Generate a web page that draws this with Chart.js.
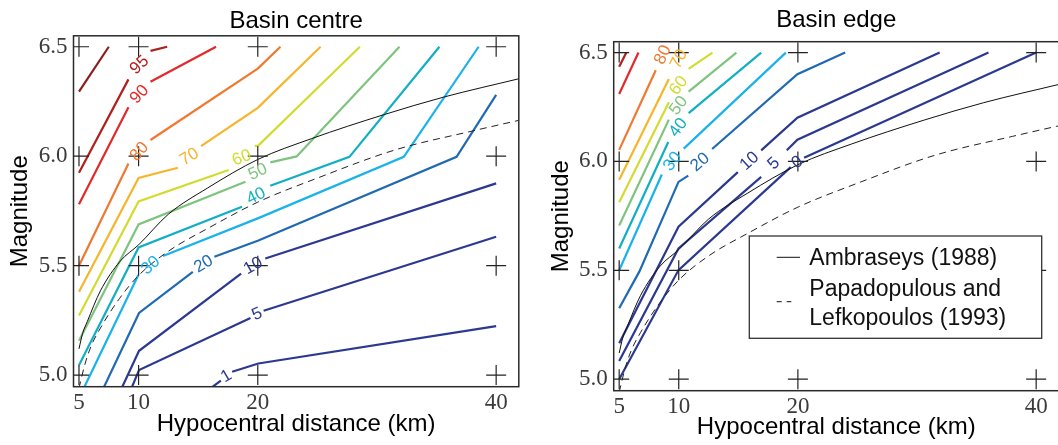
<!DOCTYPE html>
<html>
<head>
<meta charset="utf-8">
<script src="https://cdn.jsdelivr.net/npm/chart.js@4.4.1/dist/chart.umd.min.js"></script>
<style>
  html, body { margin: 0; padding: 0; background: #fff; overflow: hidden; }
  #wrap { position: relative; width: 1058px; height: 445px; overflow: hidden; }
  .box { position: absolute; top: 0; height: 445px; }
  #centreBox { left: 0; width: 530px; }
  #edgeBox { left: 530px; width: 540px; }
</style>
</head>
<body>
<div id="wrap">
  <div class="box" id="centreBox"><canvas id="centreChart" width="530" height="445"></canvas></div>
  <div class="box" id="edgeBox"><canvas id="edgeChart" width="540" height="445"></canvas></div>
</div>
<script>
// axes
const distTicks = [5, 10, 20, 40];
const magTicks = [5.0, 5.5, 6.0, 6.5];

// empirical curves (distance km, magnitude)
const ambraseysDist = [5, 5.3, 5.7, 6.8, 8.45, 10, 12.5, 15.8, 20, 24.5, 30.6, 35.6, 42];
const ambraseysMag = [5.12, 5.19, 5.245, 5.385, 5.52, 5.595, 5.735, 5.855, 5.985, 6.08, 6.19, 6.27, 6.355];
const papaDist = [5.0, 5.5, 6.0, 6.8, 8.4, 10, 12.5, 15.8, 20, 25, 31.6, 38, 42];
const papaMag = [4.94, 5.05, 5.13, 5.215, 5.35, 5.455, 5.566, 5.67, 5.79, 5.9, 6.03, 6.115, 6.165];

// basin centre contours, [distance, magnitude], null = label gap
const centreLevels = [99, 95, 90, 80, 70, 60, 50, 40, 30, 20, 10, 5, 1];
const centre99 = [[5, 6.295], [7.5, 6.5]];
const centre95 = [[5, 5.924], [9.15, 6.351], null, [11.0, 6.481], [12.4, 6.5]];
const centre90 = [[5, 5.781], [9.15, 6.224], null, [11.0, 6.34], [16.5, 6.5]];
const centre80 = [[5, 5.5], [9.15, 5.967], null, [11.0, 6.074], [20.0, 6.4], [21.9, 6.5]];
const centre70 = [[5, 5.381], [10.0, 5.901], [13.3, 5.947], null, [15.24, 6.046], [20.0, 6.221], [25.27, 6.5]];
const centre60 = [[5, 5.272], [10.0, 5.793], [17.56, 5.937], null, [19.75, 6.047], [20.02, 6.047], [28.57, 6.5]];
const centre50 = [[5, 5.157], [10.0, 5.688], [18.97, 5.883], null, [21.05, 5.972], [23.26, 5.999], [31.89, 6.5]];
const centre40 = [[5, 5.045], [10.0, 5.583], [18.68, 5.769], null, [21.05, 5.865], [27.69, 5.997], [35.24, 6.5]];
const centre30 = [[5.4, 4.94], [9.98, 5.457], null, [12.05, 5.544], [20.0, 5.716], [32.25, 5.997], [38.53, 6.5]];
const centre20 = [[7.05, 4.94], [10.04, 5.284], [14.55, 5.472], null, [16.36, 5.541], [20.0, 5.614], [36.68, 5.997], [40.0, 6.28]];
const centre10 = [[8.58, 4.94], [10.04, 5.111], [18.6, 5.464], null, [20.63, 5.533], [40.0, 5.876]];
const centre5 = [[9.4, 4.94], [10.04, 5.023], [19.39, 5.261], null, [20.49, 5.294], [40.0, 5.632]];
const centre1 = [[16.05, 4.94], [16.9, 4.975], null, [17.85, 5.015], [20.05, 5.053], [40.0, 5.224]];

// basin edge contours
const edgeLevels = [95, 90, 80, 70, 60, 50, 40, 30, 20, 10, 5, 0];
const edge95 = [[5, 6.435], [5.6, 6.5]];
const edge90 = [[5, 6.31], [6.62, 6.5]];
const edge80 = [[5, 6.053], [8.07, 6.419], null, [9.3, 6.56]];
const edge70 = [[5, 5.916], [9.17, 6.379], null, [10.9, 6.56]];
const edge60 = [[5, 5.813], [9.17, 6.272], null, [10.83, 6.425], [12.83, 6.5]];
const edge50 = [[5, 5.706], [9.17, 6.192], null, [10.83, 6.321], [14.84, 6.5]];
const edge40 = [[5, 5.6], [9.12, 6.089], null, [10.83, 6.222], [16.92, 6.5]];
const edge30 = [[5, 5.5], [8.58, 5.94], null, [10.42, 6.059], [18.99, 6.5]];
const edge20 = [[5, 5.326], [6.7, 5.495], [9.98, 5.906], [10.8, 5.935], null, [12.8, 6.057], [19.96, 6.401], [23.97, 6.5]];
const edge10 = [[5, 5.165], [9.98, 5.7], [14.96, 5.951], null, [16.92, 6.051], [19.96, 6.201], [31.9, 6.5]];
const edge5 = [[5, 5.083], [9.98, 5.6], [16.92, 5.929], null, [19.07, 6.051], [19.96, 6.1], [36.0, 6.5]];
const edge0 = [[5, 5.0], [9.98, 5.501], [19.4, 5.974], null, [20.52, 6.017], [40.0, 6.5]];

const legendLines = [['Ambraseys (1988)'], ['Papadopulous and', 'Lefkopoulos (1993)']];

const levelColors = {
  99: '#8b1e1e', 95: '#b0201f', 90: '#e2292b', 80: '#f07830', 70: '#f7b52c',
  60: '#d2dc30', 50: '#7fc47e', 40: '#12afc4', 30: '#1ab2ea', 20: '#2069b3',
  10: '#2b3990', 5: '#2b3990', 1: '#2b3990', 0: '#2b3990'
};

function toPoints(pts) {
  return pts.map(p => p ? { x: p[0], y: p[1] } : { x: null, y: null });
}

function zipPoints(xs, ys) {
  return xs.map((x, i) => ({ x: x, y: ys[i] }));
}

const crossPoints = [];
distTicks.forEach(d => magTicks.forEach(m => crossPoints.push({ x: d, y: m })));

// labels sit in the gap of each contour, turned along the line
const contourLabels = {
  id: 'contourLabels',
  afterDatasetsDraw(chart) {
    const ctx = chart.ctx;
    chart.data.datasets.forEach((ds, di) => {
      if (ds.contourLevel === undefined) return;
      const gap = ds.data.findIndex(p => p.y === null);
      if (gap < 1) return;
      const els = chart.getDatasetMeta(di).data;
      const a = els[gap - 1], b = els[gap + 1];
      const angs = [Math.atan2(b.y - a.y, b.x - a.x)];
      if (gap >= 2) {
        const p = els[gap - 2];
        angs.push(Math.atan2(a.y - p.y, a.x - p.x));
      }
      if (els[gap + 2]) {
        const q = els[gap + 2];
        angs.push(Math.atan2(q.y - b.y, q.x - b.x));
      }
      const ang = angs.reduce((s, v) => s + v, 0) / angs.length;
      ctx.save();
      ctx.translate((a.x + b.x) / 2, (a.y + b.y) / 2);
      ctx.rotate(ang);
      ctx.font = '17px "Liberation Sans"';
      ctx.fillStyle = ds.borderColor;
      ctx.textAlign = 'center';
      ctx.textBaseline = 'middle';
      ctx.fillText(String(ds.contourLevel), 0, 0);
      ctx.restore();
    });
  }
};

const frameBox = {
  id: 'frameBox',
  afterDraw(chart) {
    const { ctx, chartArea: a } = chart;
    ctx.save();
    ctx.strokeStyle = '#2a2a2a';
    ctx.lineWidth = 1.5;
    ctx.strokeRect(a.left, a.top, a.right - a.left, a.bottom - a.top);
    ctx.restore();
  }
};

const legendBox = {
  id: 'legendBox',
  afterDraw(chart, args, opts) {
    if (!opts.show) return;
    const { ctx, chartArea: a } = chart;
    const x = a.left + 135.6, y = a.top + 194.3, w = 292.4, h = 102.3;
    ctx.save();
    ctx.fillStyle = '#fff';
    ctx.fillRect(x, y, w, h);
    ctx.strokeStyle = '#333';
    ctx.lineWidth = 1.3;
    ctx.strokeRect(x, y, w, h);
    ctx.font = '23px "Liberation Sans"';
    ctx.fillStyle = '#111';
    ctx.textBaseline = 'alphabetic';
    // solid entry
    ctx.strokeStyle = '#111';
    ctx.lineWidth = 1;
    ctx.beginPath();
    ctx.moveTo(x + 27.4, y + 21.3);
    ctx.lineTo(x + 50.7, y + 21.3);
    ctx.stroke();
    ctx.fillText(legendLines[0][0], x + 60, y + 29);
    // dashed entry
    ctx.setLineDash([5, 5]);
    ctx.beginPath();
    ctx.moveTo(x + 27.4, y + 65.7);
    ctx.lineTo(x + 42, y + 65.7);
    ctx.stroke();
    ctx.setLineDash([]);
    ctx.fillText(legendLines[1][0], x + 60, y + 60);
    ctx.fillText(legendLines[1][1], x + 60, y + 89);
    ctx.restore();
  }
};

function makeChart(id, cfg) {
  const datasets = [];
  datasets.push({
    data: crossPoints, showLine: false, pointStyle: 'cross', pointRadius: 10,
    borderColor: '#222', borderWidth: 1.2, pointBorderColor: '#222'
  });
  datasets.push({
    label: 'Ambraseys (1988)', data: zipPoints(ambraseysDist, ambraseysMag),
    showLine: true, borderColor: '#111', borderWidth: 1, pointRadius: 0,
    cubicInterpolationMode: 'monotone'
  });
  datasets.push({
    label: 'Papadopulous and Lefkopoulos (1993)', data: zipPoints(papaDist, papaMag),
    showLine: true, borderColor: '#222', borderWidth: 1, borderDash: [7, 5], pointRadius: 0,
    cubicInterpolationMode: 'monotone'
  });
  cfg.contours.forEach((pts, i) => {
    const lev = cfg.levels[i];
    datasets.push({
      label: String(lev), contourLevel: lev, data: toPoints(pts),
      showLine: true, spanGaps: false, borderColor: levelColors[lev],
      borderWidth: 2.2, pointRadius: 0
    });
  });

  return new Chart(document.getElementById(id), {
    type: 'scatter',
    data: { datasets: datasets },
    plugins: [contourLabels, frameBox, legendBox],
    options: {
      responsive: false,
      animation: false,
      events: [],
      layout: { padding: { left: 0, right: cfg.padRight, top: 0, bottom: 0 } },
      plugins: {
        legend: { display: false },
        tooltip: { enabled: false },
        title: {
          display: true, text: cfg.title, fullSize: false,
          font: { family: 'Liberation Sans', size: 24, weight: 'normal' },
          color: '#000', padding: cfg.titlePad
        },
        legendBox: { show: cfg.legend }
      },
      scales: {
        x: {
          type: 'linear', min: 4.54, max: 41.9,
          afterBuildTicks: s => { s.ticks = distTicks.map(v => ({ value: v })); },
          afterFit: s => { s.height = 445 - cfg.bottom; s.paddingLeft = 0; s.paddingRight = 0; },
          ticks: {
            autoSkip: false, maxRotation: 0, padding: cfg.xTickPad, color: '#3a3a3a',
            font: { family: 'Liberation Serif', size: 23 },
            callback: v => String(v)
          },
          grid: { display: false, drawTicks: false },
          border: { display: false },
          title: {
            display: true, text: 'Hypocentral distance (km)', color: '#000',
            font: { family: 'Liberation Sans', size: 24 },
            padding: { top: 0, bottom: cfg.xTitlePad }
          }
        },
        y: {
          type: 'linear', min: 4.947, max: 6.55,
          afterBuildTicks: s => { s.ticks = magTicks.map(v => ({ value: v })); },
          afterFit: s => { s.width = cfg.left; s.paddingTop = 0; s.paddingBottom = 0; },
          ticks: {
            autoSkip: false, padding: 6, color: '#3a3a3a',
            font: { family: 'Liberation Serif', size: 23 },
            callback: v => v.toFixed(1)
          },
          grid: { display: false, drawTicks: false },
          border: { display: false },
          title: {
            display: true, text: 'Magnitude', color: '#000',
            font: { family: 'Liberation Sans', size: 24 },
            padding: { top: cfg.yTitlePad, bottom: 0 }
          }
        }
      }
    }
  });
}

makeChart('centreChart', {
  title: 'Basin centre',
  levels: centreLevels,
  contours: [centre99, centre95, centre90, centre80, centre70, centre60, centre50,
    centre40, centre30, centre20, centre10, centre5, centre1],
  left: 73.5, bottom: 386.7, padRight: 7,
  titlePad: { top: 7, bottom: 0 }, xTitlePad: 6.4, yTitlePad: 5.5, xTickPad: 2,
  legend: false
});

makeChart('edgeChart', {
  title: 'Basin edge',
  levels: edgeLevels,
  contours: [edge95, edge90, edge80, edge70, edge60, edge50, edge40, edge30,
    edge20, edge10, edge5, edge0],
  left: 83.7, bottom: 390.7, padRight: 6,
  titlePad: { top: 6.3, bottom: 6.6 }, xTitlePad: 3.4, yTitlePad: 17, xTickPad: 2.6,
  legend: true
});
</script>
</body>
</html>
